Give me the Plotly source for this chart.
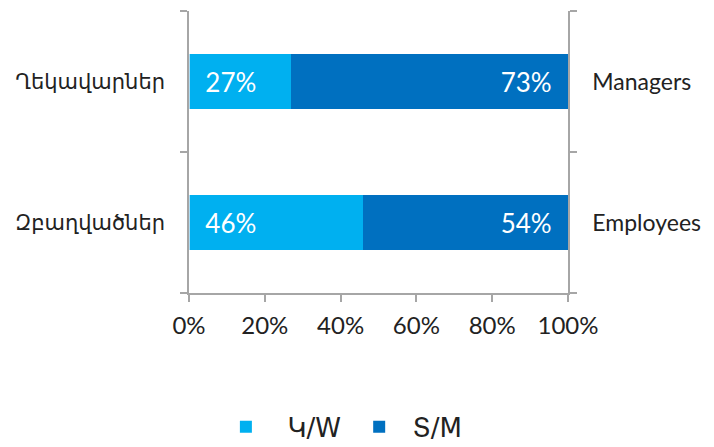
import plotly.graph_objects as go

cats_am = ["Զբաղվածներ", "Ղեկավարներ"]   # bottom to top
cats_en = ["Employees", "Managers"]
women = [46, 27]
men = [54, 73]
series_names = ["Կ/W", "Տ/M"]
x_ticks = [0, 20, 40, 60, 80, 100]
x_tick_labels = ["0%", "20%", "40%", "60%", "80%", "100%"]

light = "#00B0F0"
dark = "#0070C0"
axis_col = "#a6a6a6"
txt = "#222222"
num_font = "Lato"

fig = go.Figure()
fig.add_trace(go.Bar(
    y=cats_am, x=women, orientation="h", name="\u00a0\u00a0" + series_names[0] + "\u00a0",
    marker=dict(color=light, line=dict(width=0)),
    text=[f"{v}%" for v in women],
    texttemplate="\u00a0\u00a0%{text}", textposition="inside", insidetextanchor="start",
    textfont=dict(color="white", size=26, family=num_font), textangle=0,
))
fig.add_trace(go.Bar(
    y=cats_am, x=men, orientation="h", name="\u00a0" + series_names[1],
    marker=dict(color=dark, line=dict(width=0)),
    text=[f"{v}%" for v in men],
    texttemplate="%{text}\u00a0\u00a0", textposition="inside", insidetextanchor="end",
    textfont=dict(color="white", size=26, family=num_font), textangle=0,
))
fig.add_trace(go.Bar(
    y=cats_en, x=[0, 0], orientation="h", yaxis="y2", showlegend=False,
    hoverinfo="skip", marker=dict(color="rgba(0,0,0,0)"),
))

yax_common = dict(
    type="category", range=[-0.5, 1.5], showline=True, linecolor=axis_col, linewidth=1.5,
    ticks="outside", tickson="boundaries", ticklen=7, tickcolor=axis_col, tickwidth=1.5,
    showgrid=False, zeroline=False, automargin=False,
)
fig.update_layout(
    width=706, height=439,
    margin=dict(l=181, r=146, t=3, b=154, autoexpand=False),
    paper_bgcolor="white", plot_bgcolor="white",
    barmode="stack", bargap=0.605,
    font=dict(family=num_font, color=txt),
    xaxis=dict(range=[0, 100], tickmode="array", tickvals=x_ticks, ticktext=x_tick_labels,
               showline=True, automargin=False,
               linecolor=axis_col, linewidth=1.5, ticks="outside", ticklen=7,
               tickcolor=axis_col, tickwidth=1.5, showgrid=False, zeroline=False,
               ticklabelstandoff=3,
               tickfont=dict(size=24, family=num_font, color=txt)),
    yaxis=dict(**yax_common, categoryorder="array", categoryarray=cats_am, ticklabelstandoff=18,
               tickfont=dict(size=21, family="DejaVu Sans", color=txt)),
    yaxis2=dict(**yax_common, overlaying="y", side="right", categoryorder="array",
                categoryarray=cats_en, ticklabelstandoff=18,
                tickfont=dict(size=23, family=num_font, color=txt)),
    legend=dict(orientation="h", x=0.41, xanchor="center", y=-0.475, yanchor="middle",
                font=dict(size=26, family="DejaVu Sans", color=txt), itemwidth=40,
                traceorder="normal"),
)
fig.write_html("out.html")
